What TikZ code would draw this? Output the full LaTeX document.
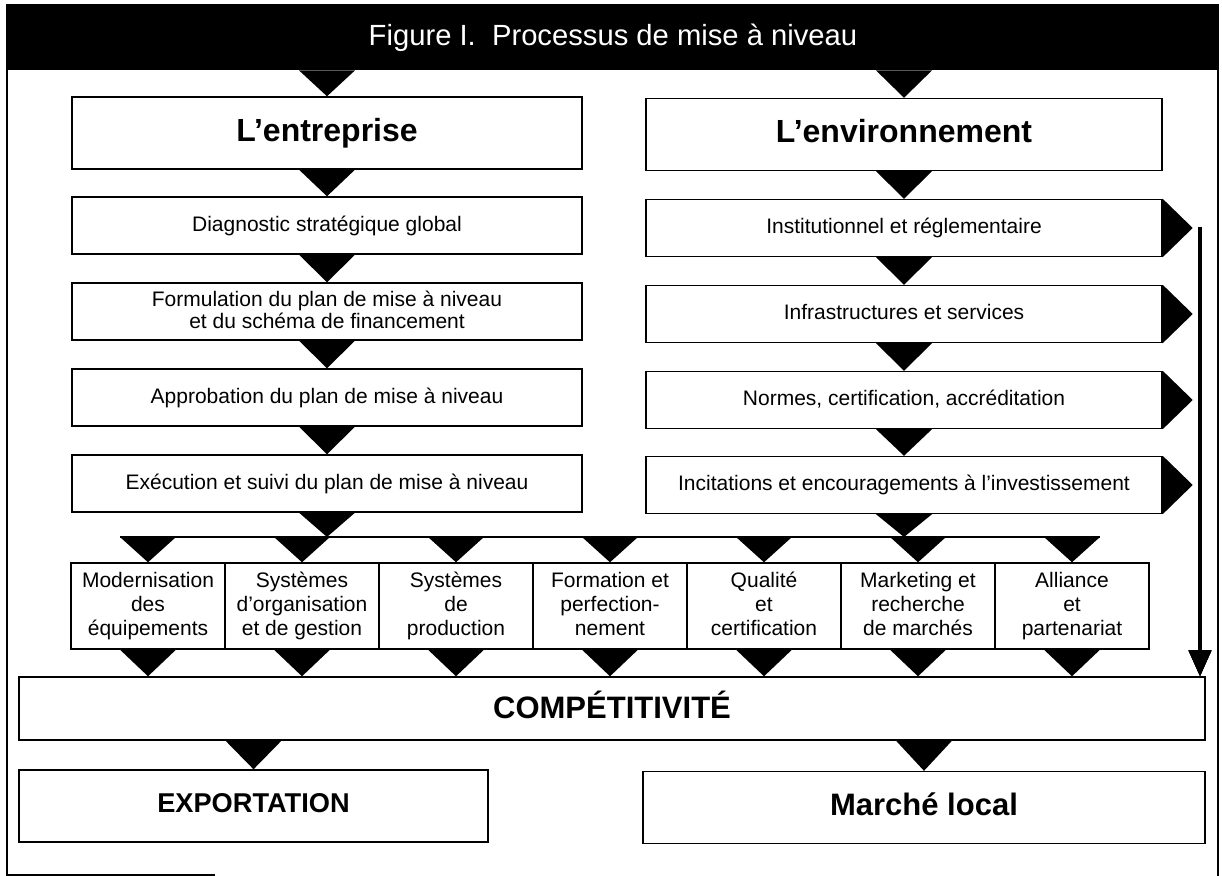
\documentclass[tikz,border=0pt]{standalone}
\usepackage{fontspec}
\setmainfont{Liberation Sans}
\usetikzlibrary{calc,arrows.meta}

\newcommand{\downtri}[3]{\fill ($(#1 |- #2)+(-28,0)$) -- ($(#1 |- #2)+(28,0)$) -- (#1 |- #3) -- cycle;}
\newcommand{\sidetri}[1]{\fill (#1.north east) -- ($(#1.east)+(30,0)$) -- (#1.south east) -- cycle;}

\tikzset{
  box/.style={draw, line width=0.7pt, inner sep=1pt, align=center, font=\fontsize{10.5}{12}\selectfont,
              execute at begin node=\vphantom{Ag}, execute at end node=\vphantom{Ag}},
  lbox/.style={box, minimum width=255pt, minimum height=28.5pt, font=\fontsize{10.5}{11}\selectfont},
  rbox/.style={box, minimum width=258pt, minimum height=28.5pt},
  headbox/.style={box, minimum height=36pt, font=\bfseries\fontsize{16}{19}\selectfont},
  cell/.style={box, minimum width=77pt, minimum height=43pt},
  endbox/.style={box, minimum height=36pt, font=\bfseries\fontsize{15}{18}\selectfont},
}

\begin{document}
\begin{tikzpicture}[x=0.5pt, y=-0.5pt]
        \useasboundingbox (0,0) rectangle (1222,876);
        \draw[line width=0.6pt] (215,875) -- (7,875) -- (7,5) -- (1218,5) -- (1218,876);
        \node[fill=black, text=white, minimum width=605.5pt, minimum height=32.5pt, inner sep=0pt,
              font=\fontsize{14.6}{16}\selectfont] (head) at (613,37.5) {\vphantom{Ag}Figure I.\ \ Processus de mise à niveau};

        \node[headbox, minimum width=255pt] (ent) at (327,133) {L’entreprise};
        \node[lbox] (diag) at (327,225.5) {Diagnostic stratégique global};
        \node[lbox] (form) at (327,311.5) {Formulation du plan de mise à niveau\\et du schéma de financement};
        \node[lbox] (appro) at (327,397.5) {Approbation du plan de mise à niveau};
        \node[lbox] (exec) at (327,483.5) {Exécution et suivi du plan de mise à niveau};

        \node[headbox, minimum width=258pt] (env) at (904,134.5) {L’environnement};
        \node[rbox] (inst) at (904,228) {Institutionnel et réglementaire};
        \node[rbox] (infra) at (904,314) {Infrastructures et services};
        \node[rbox] (norm) at (904,400) {Normes, certification, accréditation};
        \node[rbox] (inc) at (904,485) {Incitations et encouragements à l'investissement};

        \foreach \i/\txt in {1/{Modernisation\\des\\équipements}, 2/{Systèmes\\d'organisation\\et de gestion},
                             3/{Systèmes\\de\\production}, 4/{Formation et\\perfection-\\nement},
                             5/{Qualité\\et\\certification}, 6/{Marketing et\\recherche\\de marchés},
                             7/{Alliance\\et\\partenariat}}
          \node[cell] (m\i) at (-6+154*\i,606) {\txt};

        \node[box, minimum width=593pt, minimum height=31.5pt, font=\bfseries\fontsize{15.5}{18}\selectfont] (comp) at (612,708.5) {COMPÉTITIVITÉ};
        \node[endbox, minimum width=234.5pt, font=\bfseries\fontsize{13.6}{17}\selectfont] (expo) at (253.5,806) {EXPORTATION};
        \node[endbox, minimum width=281pt, font=\bfseries\fontsize{15.5}{18}\selectfont] (local) at (924,807.5) {Marché local};

        \coordinate (bar) at (0,537);
        \coordinate (vtop) at (1200,227);

        \downtri{ent}{head.south}{ent.north}
        \downtri{env}{head.south}{env.north}
        \downtri{diag}{ent.south}{diag.north}
        \downtri{form}{diag.south}{form.north}
        \downtri{appro}{form.south}{appro.north}
        \downtri{exec}{appro.south}{exec.north}
        \downtri{inst}{env.south}{inst.north}
        \downtri{infra}{inst.south}{infra.north}
        \downtri{norm}{infra.south}{norm.north}
        \downtri{inc}{norm.south}{inc.north}
        \downtri{exec}{exec.south}{bar}
        \downtri{inc}{inc.south}{bar}
        \draw[line width=0.7pt] ($(m1 |- bar)+(-28,0)$) -- ($(m7 |- bar)+(28,0)$);
        \foreach \i in {1,...,7} {
          \downtri{m\i}{bar}{m\i.north}
          \downtri{m\i}{m\i.south}{comp.north}
        }
        \downtri{expo}{comp.south}{expo.north}
        \downtri{local}{comp.south}{local.north}

        \foreach \n in {inst,infra,norm,inc}
          \sidetri{\n}
        \draw[line width=2pt, -{Triangle[width=11pt,length=13pt]}] (vtop) -- (vtop |- comp.north);
      \end{tikzpicture}
\end{document}
